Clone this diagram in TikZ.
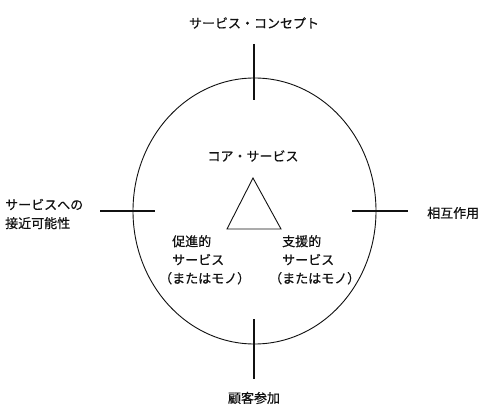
\documentclass[tikz,border=0pt]{standalone}
\usepackage{fontspec}
\setmainfont{Noto Sans CJK JP}[FakeBold=0.5]
\usetikzlibrary{positioning,shapes.geometric}
\definecolor{RingInk}{HTML}{111111}
\tikzset{
  lbl/.style={font=\fontsize{13}{18.5}\selectfont,inner sep=0pt,RingInk},
  tickline/.style={line width=1.3pt,RingInk}
}

\begin{document}
\begin{tikzpicture}[x=1pt,y=-1pt]
    \useasboundingbox (0,0) rectangle (490,406);
    \node[draw=RingInk,ellipse,line width=0.9pt,inner sep=0pt,minimum width=243pt,minimum height=266pt] (ring) at (254.5,211) {};
    % ticks across the ring
    \coordinate (topA) at (254,44);  \coordinate (topB) at (254,100);
    \coordinate (botA) at (254,319); \coordinate (botB) at (254,379);
    \coordinate (lftA) at (100,211); \coordinate (lftB) at (155,211);
    \coordinate (rgtA) at (352,211); \coordinate (rgtB) at (408,211);
    \foreach \n in {top,bot,lft,rgt}{
      \draw[tickline] (\n A)--(\n B);
    }
    \node[lbl] (concept) at (254,23) {サービス・コンセプト};
    \node[lbl] (participation) at (254,398) {顧客参加};
    \node[lbl,anchor=west] (interaction) at (427,213) {相互作用};
    \node[lbl,anchor=west,align=left] (access) at (5,214) {サービスへの\\接近可能性};
    % core triangle
    \node[lbl] (core) at (253,156) {コア・サービス};
    \coordinate (apex) at (253,178);
    \coordinate (baseL) at (227,229);
    \coordinate (baseR) at (281,229);
    \draw[RingInk,line width=0.9pt] (apex)--(baseL)--(baseR)--cycle;
    \node[lbl,anchor=north west,align=left] (facilitating) at (159,235) {\hspace*{1em}促進的\\\hspace*{1em}サービス\\（またはモノ）};
    \node[lbl,anchor=north west,align=left] (supporting) at (269,235) {\hspace*{1em}支援的\\\hspace*{1em}サービス\\（またはモノ）};
  \end{tikzpicture}
\end{document}
